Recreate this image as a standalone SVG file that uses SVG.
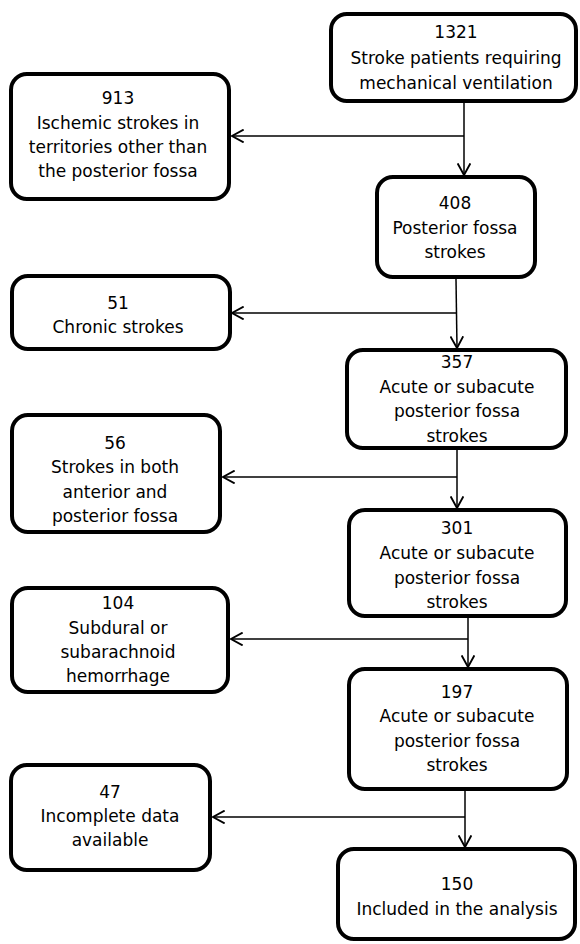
<svg xmlns="http://www.w3.org/2000/svg" width="580" height="944" viewBox="0 0 580 944">
<defs>
<style>
.box{fill:#fff;stroke:#000;stroke-width:4}
.t{font-family:"DejaVu Sans",Verdana,sans-serif;font-size:17px;fill:#000;text-anchor:middle}
.c{fill:none;stroke:#000;stroke-width:1.5}
</style>
<marker id="arr" markerUnits="userSpaceOnUse" markerWidth="14" markerHeight="14" refX="10" refY="6" orient="auto" viewBox="0 0 12 12">
<path d="M0,0.5 L10,6 L0,11.5" fill="none" stroke="#000" stroke-width="1.6"/>
</marker>
</defs>
<rect width="580" height="944" fill="#fff"/>
<g id="connectors">
<path class="c" d="M464,103 V175" marker-end="url(#arr)"/>
<path class="c" d="M464,136 H232" marker-end="url(#arr)"/>
<path class="c" d="M456,279 L457,348" marker-end="url(#arr)"/>
<path class="c" d="M456,313 H232" marker-end="url(#arr)"/>
<path class="c" d="M457,450 V508" marker-end="url(#arr)"/>
<path class="c" d="M457,477 H223" marker-end="url(#arr)"/>
<path class="c" d="M468,618 V667" marker-end="url(#arr)"/>
<path class="c" d="M468,639 H231" marker-end="url(#arr)"/>
<path class="c" d="M465,791 V847" marker-end="url(#arr)"/>
<path class="c" d="M465,817 H213" marker-end="url(#arr)"/>
</g>
<g id="n1321"><rect class="box" x="331" y="14" width="245" height="87" rx="16"/>
<text class="t" x="456" y="38">1321</text><text class="t" x="456" y="64">Stroke patients requiring</text><text class="t" x="456" y="89">mechanical ventilation</text></g>
<g id="n913"><rect class="box" x="11" y="74" width="218" height="125" rx="16"/>
<text class="t" x="118" y="104">913</text><text class="t" x="118" y="129">Ischemic strokes in</text><text class="t" x="118" y="153">territories other than</text><text class="t" x="118" y="177">the posterior fossa</text></g>
<g id="n408"><rect class="box" x="377" y="177" width="158" height="100" rx="16"/>
<text class="t" x="455" y="209">408</text><text class="t" x="455" y="234">Posterior fossa</text><text class="t" x="455" y="258">strokes</text></g>
<g id="n51"><rect class="box" x="12" y="276" width="218" height="73" rx="16"/>
<text class="t" x="118" y="309">51</text><text class="t" x="118" y="333">Chronic strokes</text></g>
<g id="n357"><rect class="box" x="347" y="350" width="219" height="98" rx="16"/>
<text class="t" x="457" y="368">357</text><text class="t" x="457" y="393">Acute or subacute</text><text class="t" x="457" y="417">posterior fossa</text><text class="t" x="457" y="442">strokes</text></g>
<g id="n56"><rect class="box" x="12" y="415" width="208" height="117" rx="16"/>
<text class="t" x="115" y="449">56</text><text class="t" x="115" y="473">Strokes in both</text><text class="t" x="115" y="498">anterior and</text><text class="t" x="115" y="522">posterior fossa</text></g>
<g id="n301"><rect class="box" x="349" y="510" width="217" height="106" rx="16"/>
<text class="t" x="457" y="534">301</text><text class="t" x="457" y="559">Acute or subacute</text><text class="t" x="457" y="584">posterior fossa</text><text class="t" x="457" y="608">strokes</text></g>
<g id="n104"><rect class="box" x="12" y="588" width="216" height="104" rx="16"/>
<text class="t" x="118" y="609">104</text><text class="t" x="118" y="634">Subdural or</text><text class="t" x="118" y="658">subarachnoid</text><text class="t" x="118" y="682">hemorrhage</text></g>
<g id="n197"><rect class="box" x="349" y="669" width="218" height="120" rx="16"/>
<text class="t" x="457" y="698">197</text><text class="t" x="457" y="722">Acute or subacute</text><text class="t" x="457" y="747">posterior fossa</text><text class="t" x="457" y="771">strokes</text></g>
<g id="n47"><rect class="box" x="11" y="765" width="199" height="105" rx="16"/>
<text class="t" x="110" y="798">47</text><text class="t" x="110" y="822">Incomplete data</text><text class="t" x="110" y="846">available</text></g>
<g id="n150"><rect class="box" x="338" y="849" width="237" height="90" rx="16"/>
<text class="t" x="457" y="890">150</text><text class="t" x="457" y="915">Included in the analysis</text></g>
</svg>
